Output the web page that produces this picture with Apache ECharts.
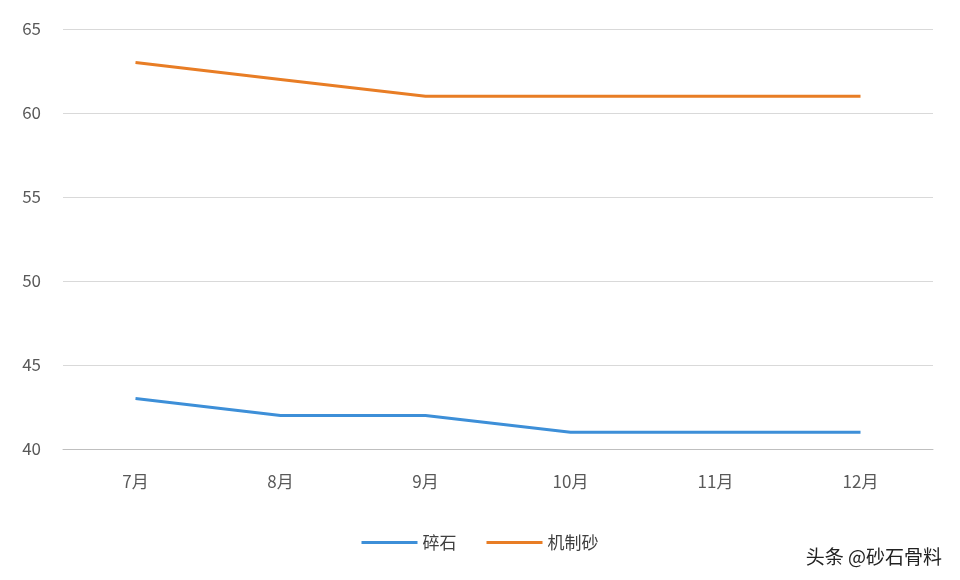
<!DOCTYPE html>
<html><head><meta charset="utf-8">
<script src="https://cdn.jsdelivr.net/npm/echarts@6/dist/echarts.min.js"></script>
<style>html,body{margin:0;padding:0;background:#fff}#c{width:960px;height:580px}</style>
</head><body><div id="c"></div>
<script>
const categories = ['7月','8月','9月','10月','11月','12月'];
const gravel = [43, 42, 42, 41, 41, 41];
const sand = [63, 62, 61, 61, 61, 61];
const chart = echarts.init(document.getElementById('c'));
chart.setOption({
  backgroundColor:'#fff',
  textStyle:{fontFamily:'Noto Sans CJK SC'},
  grid:{left:63,right:27,top:29,bottom:131},
  legend:{bottom:24,left:'center',itemWidth:56,itemHeight:3,itemGap:30,icon:'rect',
    textStyle:{fontSize:17,color:'#404040'},data:['碎石','机制砂']},
  xAxis:{type:'category',data:categories,boundaryGap:true,
    axisLine:{lineStyle:{color:'#bfbfbf'}},axisTick:{show:false},
    axisLabel:{fontSize:17,color:'#595959',margin:24}},
  yAxis:{type:'value',min:40,max:65,interval:5,
    axisLine:{show:false},axisTick:{show:false},
    splitLine:{lineStyle:{color:'#d9d9d9'}},
    axisLabel:{fontSize:17,color:'#595959',margin:22}},
  series:[
    {name:'碎石',type:'line',data:gravel,symbol:'none',lineStyle:{width:3,color:'#3d8fd8'},itemStyle:{color:'#3d8fd8'}},
    {name:'机制砂',type:'line',data:sand,symbol:'none',lineStyle:{width:3,color:'#e87d25'},itemStyle:{color:'#e87d25'}}
  ],
  graphic:[{type:'text',right:18,bottom:14,style:{text:'头条 @砂石骨料',fontSize:19,fill:'#222',fontFamily:'Noto Sans CJK SC'}}]
});
</script></body></html>
